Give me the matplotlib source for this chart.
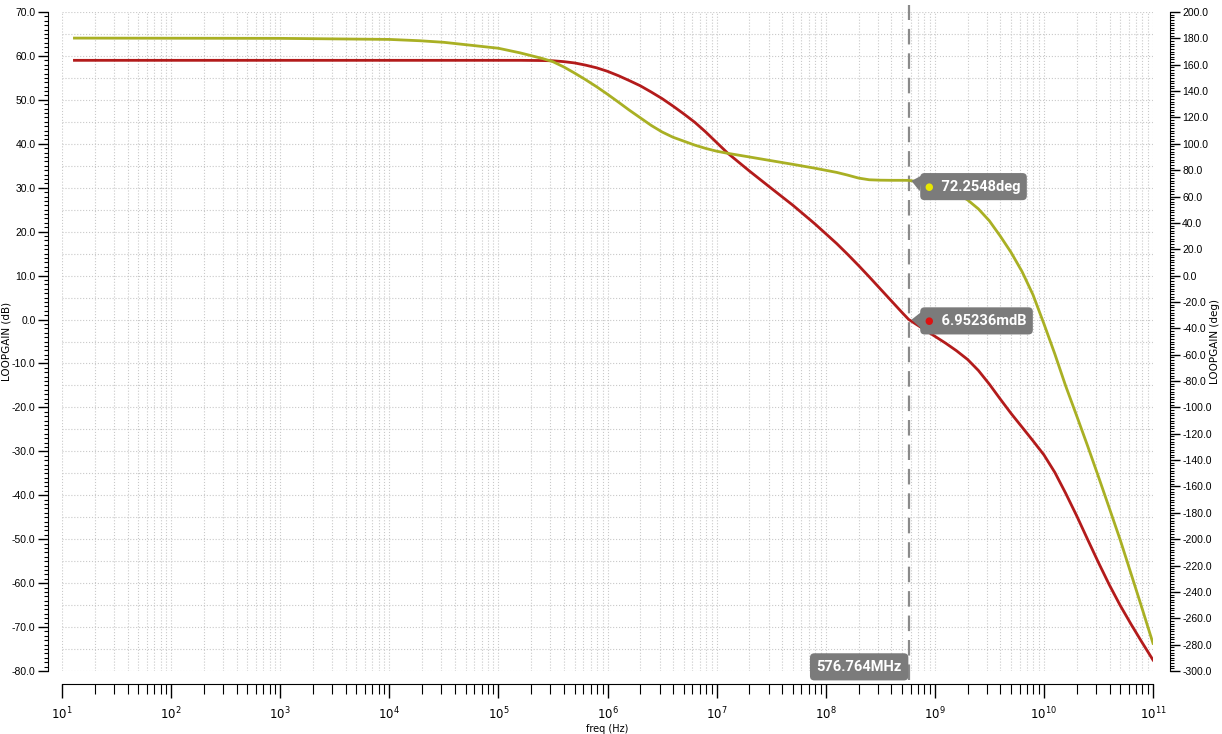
import numpy as np
import matplotlib.pyplot as plt
from matplotlib.ticker import LogLocator, MultipleLocator, FormatStrFormatter, NullFormatter

# sweep frequencies (Hz)
freq = [1.3e1, 1.0e3, 1.0e4, 1.9e4, 3.16e4,
        1.0e5, 1.58e5, 2.51e5, 3.16e5, 3.98e5,
        5.01e5, 6.31e5, 7.94e5, 1.0e6, 1.26e6,
        1.58e6, 2.0e6, 2.51e6, 3.16e6, 3.98e6,
        5.01e6, 6.31e6, 7.94e6, 1.0e7, 1.26e7,
        2.0e7, 3.16e7, 5.01e7, 7.94e7, 1.26e8,
        1.58e8, 2.0e8, 2.51e8, 3.16e8, 3.98e8,
        5.01e8, 5.77e8, 7.94e8, 1.0e9, 1.26e9,
        1.58e9, 2.0e9, 2.51e9, 3.16e9, 3.98e9,
        5.01e9, 6.31e9, 7.94e9, 1.0e10, 1.26e10,
        1.58e10, 2.0e10, 2.51e10, 3.16e10, 3.98e10,
        5.01e10, 6.31e10, 7.94e10, 1.0e11]

# loop gain magnitude (dB)
gain_db = [59.0, 59.0, 59.0, 59.0, 59.0,
           59.0, 59.0, 58.95, 58.9, 58.7,
           58.4, 57.9, 57.3, 56.5, 55.5,
           54.4, 53.2, 51.8, 50.3, 48.6,
           46.8, 44.9, 42.7, 40.3, 37.9,
           33.8, 29.9, 26.0, 21.8, 17.3,
           14.9, 12.3, 9.7, 7.0, 4.3,
           1.6, 0.007, -2.2, -3.8, -5.4,
           -7.1, -9.1, -11.6, -14.7, -18.1,
           -21.4, -24.5, -27.6, -30.8, -34.8,
           -39.5, -44.7, -50.0, -55.3, -60.4,
           -65.1, -69.4, -73.5, -77.5]

# loop gain phase (deg)
phase_deg = [180.2, 180.0, 179.2, 178.2, 177.0,
             172.5, 169.0, 164.8, 162.3, 158.3,
             153.6, 148.6, 143.3, 137.6, 131.6,
             125.6, 119.7, 114.0, 109.0, 105.0,
             102.0, 99.0, 96.5, 94.4, 92.8,
             90.0, 87.2, 84.4, 81.5, 78.3,
             76.3, 74.0, 72.7, 72.4, 72.3,
             72.3, 72.2548, 70.6, 68.8, 66.2,
             62.5, 57.4, 50.6, 41.6, 30.0,
             17.5, 3.0, -14.5, -36.5, -59.5,
             -83.5, -106.5, -129.0, -152.5, -176.5,
             -200.6, -226.5, -252.5, -279.0]

# cursor readout
cursor_freq = 576.764e6
cursor_gain = 6.95236e-3
cursor_phase = 72.2548

red = '#b31b1b'
olive = '#a9b024'
box_gray = '#7b7b7b'
grid_kw = dict(color='#c9c9c9', linestyle=':', linewidth=0.8)
tick_font = ['Liberation Sans', 'DejaVu Sans']

fig = plt.figure(figsize=(12.22, 7.34), dpi=100)
ax = fig.add_axes([62 / 1222, 63 / 734, 1091 / 1222, 659 / 734])
ax2 = ax.twinx()

ax.plot(freq, gain_db, color=red, lw=2.0, zorder=3)
ax2.plot(freq, phase_deg, color=olive, lw=2.0, zorder=3)

ax.set_xscale('log')
ax.set_xlim(10, 1e11)
ax.set_ylim(-80, 70)
ax2.set_ylim(-300, 200)

# grid: decades + minor decades, 5 dB lines
ax.xaxis.set_major_locator(LogLocator(base=10, numticks=20))
ax.xaxis.set_minor_locator(LogLocator(base=10, subs=np.arange(2, 10), numticks=100))
ax.xaxis.set_minor_formatter(NullFormatter())
ax.yaxis.set_major_locator(MultipleLocator(10))
ax.yaxis.set_minor_locator(MultipleLocator(1))
ax.yaxis.set_major_formatter(FormatStrFormatter('%.1f'))
ax.grid(True, which='major', axis='both', **grid_kw)
ax.grid(True, which='minor', axis='x', **grid_kw)
for yv in np.arange(-75, 70, 10):
    ax.axhline(yv, zorder=0, **grid_kw)
ax.set_axisbelow(True)

ax2.yaxis.set_major_locator(MultipleLocator(20))
ax2.yaxis.set_minor_locator(MultipleLocator(2))
ax2.yaxis.set_major_formatter(FormatStrFormatter('%.1f'))

for a in (ax, ax2):
    a.spines['top'].set_visible(False)
ax.spines['right'].set_visible(False)
ax2.spines['left'].set_visible(False)
ax2.spines['bottom'].set_visible(False)
ax.spines['left'].set_position(('outward', 10))
ax.spines['bottom'].set_position(('outward', 9))
ax2.spines['right'].set_position(('outward', 12))

ax.tick_params(axis='y', which='major', length=7, width=1, labelsize=7.5, pad=2)
ax.tick_params(axis='y', which='minor', length=3, width=0.8)
ax2.tick_params(axis='y', which='major', length=7, width=1, labelsize=7.5, pad=2)
ax2.tick_params(axis='y', which='minor', length=3, width=0.8)
ax.tick_params(axis='x', which='major', length=10, width=1, labelsize=8.5, pad=6)
ax.tick_params(axis='x', which='minor', length=7, width=0.8)
for lbl in ax.get_yticklabels() + ax2.get_yticklabels():
    lbl.set_family(tick_font)

ax.set_xlabel('freq (Hz)', fontsize=7)
ax.set_ylabel('LOOPGAIN (dB)', fontsize=7.5)
ax2.set_ylabel('LOOPGAIN (deg)', fontsize=7.5, rotation=90)
ax.xaxis.set_label_coords(0.5, -0.080)
ax.yaxis.set_label_coords(-0.046, 0.5)
ax2.yaxis.set_label_coords(1.052, 0.5)

# cursor line
ax.axvline(cursor_freq, ymin=-0.014, ymax=1.01, color='#8a8a8a', lw=1.6,
           dashes=(7, 4), clip_on=False, zorder=4)

box_font = dict(family=['Roboto', 'DejaVu Sans'], weight='bold',
                fontsize=10.5, color='white')
box_style = dict(boxstyle='round,pad=0.45,rounding_size=0.3', fc=box_gray, ec='none')


def readout(a, y, label, dot_color, dy):
    # pointer, box with value, and the trace-coloured dot
    a.annotate('', xy=(cursor_freq, y), xytext=(11, dy * 0.5), textcoords='offset points',
               arrowprops=dict(arrowstyle='wedge,tail_width=1.2', color=box_gray, lw=0),
               zorder=5)
    a.annotate('    ' + label, xy=(cursor_freq, y), xytext=(13, dy), textcoords='offset points',
               ha='left', va='center', zorder=6, bbox=box_style, **box_font)
    a.annotate('\u25CF', xy=(cursor_freq, y), xytext=(14.5, dy), textcoords='offset points',
               ha='center', va='center', color=dot_color, fontsize=7, zorder=7)


readout(ax2, cursor_phase, f'{cursor_phase:g}deg', '#e8e800', -4.5)
readout(ax, cursor_gain, f'{cursor_gain * 1e3:g}mdB', '#dd1111', -1)

ax.annotate(f'{cursor_freq / 1e6:g}MHz', xy=(cursor_freq, -80), xytext=(-5, 3),
            textcoords='offset points', ha='right', va='center', zorder=6,
            bbox=box_style, annotation_clip=False, **box_font)

fig.savefig('out.png', dpi=100)
